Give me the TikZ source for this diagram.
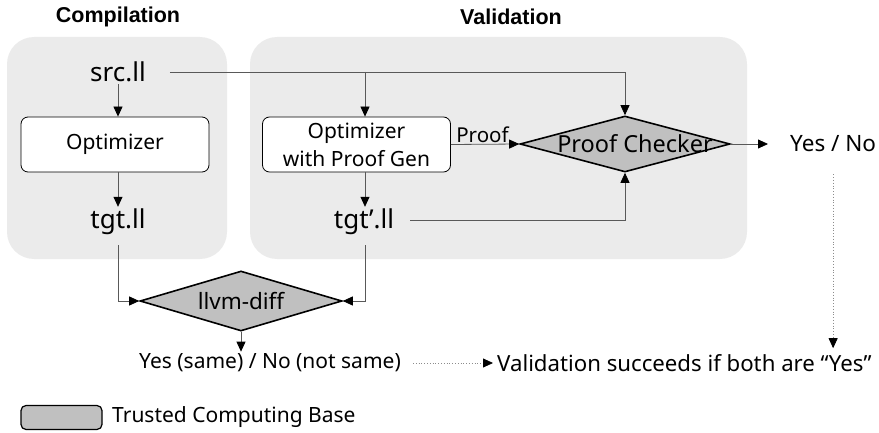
\documentclass[tikz,border=0pt]{standalone}
\usepackage{fontspec}
\setmainfont{Noto Sans}
\newfontfamily\titlefont{Liberation Sans}
\usetikzlibrary{shapes.geometric,arrows.meta,calc}
\definecolor{panelgray}{HTML}{EBEBEB}
\definecolor{tcbgray}{HTML}{C0C0C0}
\definecolor{linegray}{HTML}{595959}
\definecolor{dotgray}{HTML}{8C8C8C}
\begin{document}
\begin{tikzpicture}[x=1pt,y=-1pt,
  panel/.style={fill=panelgray, draw=none, rounded corners=27pt},
  title/.style={font=\titlefont\fontsize{21.5}{24}\selectfont\bfseries},
  file/.style={font=\fontsize{26}{30}\selectfont, inner sep=2pt},
  txt/.style={font=\fontsize{21}{25}\selectfont, inner sep=2pt},
  optbox/.style={draw=black, fill=white, rounded corners=7pt, line width=0.8pt,
    font=\fontsize{21}{28}\selectfont, align=center, inner sep=0pt,
    minimum width=188pt, minimum height=55pt},
  tcb/.style={diamond, draw=black, fill=tcbgray, line width=1.6pt, inner sep=0pt},
  tip/.style={-{Triangle[length=10pt,width=9pt,color=black]}},
  conn/.style={draw=linegray, line width=0.8pt, tip},
  dotconn/.style={draw=dotgray, line width=0.8pt, dotted, tip}]
\useasboundingbox (0,0) rectangle (879,433);

% panels
\fill[panelgray, rounded corners=27pt] (7,37) rectangle (227,259);
\fill[panelgray, rounded corners=27pt] (250,37) rectangle (747,259);

\node[title] (tcomp) at (118,17) {Compilation};
\node[title] (tval) at (511,17) {Validation};

% compilation column
\coordinate (colA) at (118,0);
\coordinate (colB) at (365,0);
\node[file] (src) at (118,72) {src.ll};
\node[optbox] (opt1) at (115,144.5) {Optimizer};
\node[file] (tgt) at (118,222) {tgt.ll};

% validation column
\node[optbox] (opt2) at (356.5,144.5) {Optimizer\\with Proof Gen};
\node[file] (tgt2) at (364,222) {tgt'.ll};
\node[tcb, minimum width=210pt, minimum height=56pt,
  label={[font=\fontsize{23.5}{27}\selectfont, xshift=10pt]center:Proof Checker}] (pc) at (625,144) {};
\node[txt, anchor=west, font=\fontsize{22.5}{27}\selectfont] (yn) at (788,144) {Yes / No};

% llvm-diff
\node[tcb, minimum width=202pt, minimum height=60pt,
  label={[font=\fontsize{22.5}{27}\selectfont]center:llvm-diff}] (ld) at (241,301) {};
\node[txt] (same) at (270,363) {Yes (same) / No (not same)};
\node[txt, anchor=west, font=\fontsize{22.2}{27}\selectfont] (valid) at (495,363) {Validation succeeds if both are “Yes”};

% legend
\node[draw=black, fill=tcbgray, line width=1.2pt, rounded corners=5pt,
  minimum width=81pt, minimum height=24pt, inner sep=0pt] (lg) at (61.5,417.5) {};
\node[txt, anchor=west] (lgt) at (110,417.5) {Trusted Computing Base};

% connectors
\draw[conn] (colA |- src.south) -- (colA |- opt1.north);
\draw[conn] (colA |- opt1.south) -- (tgt.north);
\draw[conn] ($(src.east)+(22,0)$) -| (pc.north);
\draw[conn] (colB |- src.east) -- (colB |- opt2.north);
\draw[conn] (opt2.east) -- node[pos=0, anchor=south west, txt, font=\fontsize{20.5}{24}\selectfont, xshift=3pt, yshift=-1pt] (prooflbl) {Proof} (pc.west);
\draw[conn] (colB |- opt2.south) -- (colB |- tgt2.north);
\draw[conn] ($(tgt2.east)+(14,-2)$) -| (pc.south);
\draw[conn, shorten >=20pt] (pc.east) -- (yn.west);
\draw[dotconn] ($(yn.south)+(0,20)$) -- ($(yn.south |- valid.north)+(0,-4)$);
\draw[conn] ($(tgt.south)+(0,8)$) |- (ld.west);
\draw[conn] ($(tgt2.south -| colB)+(0,8)$) |- (ld.east);
\draw[conn] (ld.south) -- (ld.south |- same.north);
\draw[dotconn, shorten <=10pt, shorten >=2pt] (same.east) -- (valid.west);
\end{tikzpicture}
\end{document}
